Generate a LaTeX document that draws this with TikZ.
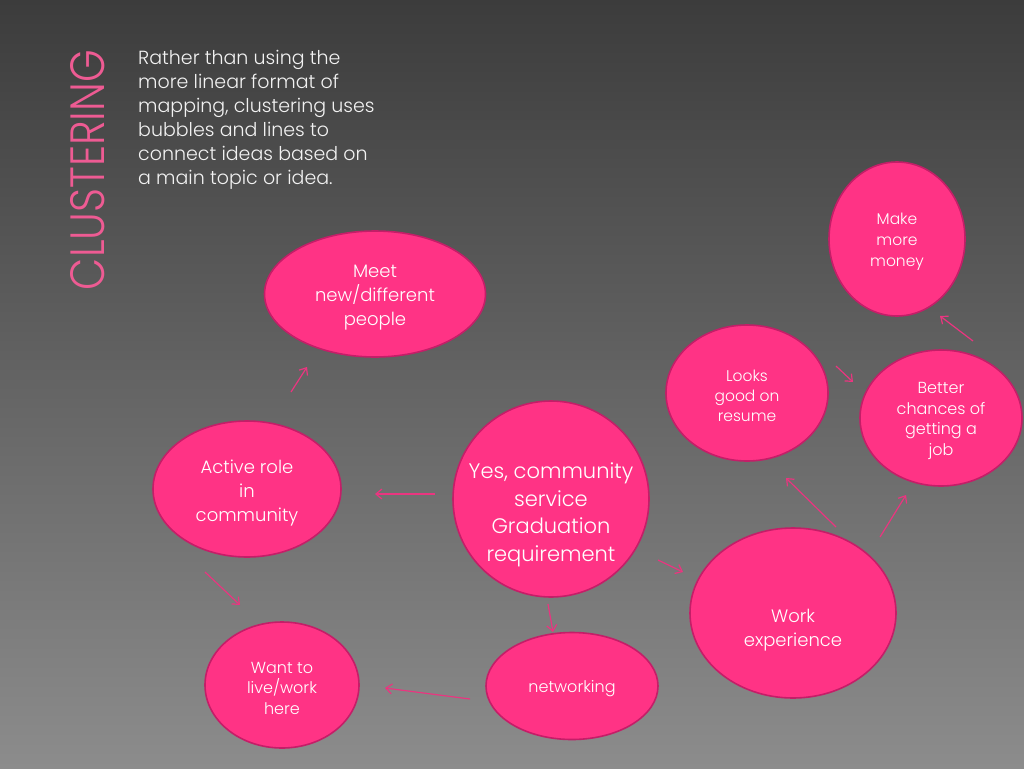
\documentclass[tikz,border=0pt]{standalone}
\usepackage{fontspec}
\setmainfont{Poppins}[UprightFont={* Light}]
\usetikzlibrary{arrows.meta,shapes.geometric}
\definecolor{bgtop}{HTML}{3C3C3C}
\definecolor{bgbot}{HTML}{8C8C8C}
\definecolor{bub}{HTML}{FF3385}
\definecolor{bubline}{HTML}{C41E68}
\definecolor{arr}{HTML}{EA3580}
\definecolor{ttl}{HTML}{EE5B93}
\definecolor{txt}{HTML}{F2F2F2}
\tikzset{
  bubble/.style={ellipse, fill=bub, draw=bubline, line width=1.6pt, inner sep=0pt},
  conn/.style={draw=arr, line width=1.2pt, -{Straight Barb[length=6pt,width=10pt]}},
  btext/.style={text=white, align=center, inner sep=0pt},
}
\begin{document}
\begin{tikzpicture}[x=1pt,y=-1pt]
\shade[top color=bgtop, bottom color=bgbot] (0,0) rectangle (1024,768);
\useasboundingbox (0,0) rectangle (1024,768);

\node[text=ttl, rotate=90, inner sep=0pt] (title) at (88,170) {\resizebox{240pt}{34pt}{CLUSTERING}};
\node[text=txt, anchor=north west, align=left, inner sep=0pt, font=\fontsize{19}{24}\selectfont] (intro) at (138,50)
 {Rather than using the\\more linear format of\\mapping, clustering uses\\bubbles and lines to\\connect ideas based on\\a main topic or idea.};

\node[bubble, minimum width=221pt, minimum height=126pt] (meet) at (375,294) {};
\node[btext, font=\fontsize{18}{24}\selectfont] (meettext) at (375,298) {Meet\\new/different\\people};
\node[bubble, minimum width=188pt, minimum height=136pt] (active) at (247,489) {};
\node[btext, font=\fontsize{18}{24}\selectfont] (activetext) at (247,493) {Active role\\in\\community};
\node[bubble, minimum width=196pt, minimum height=196pt] (yes) at (551,499) {};
\node[btext, font=\fontsize{21}{27.5}\selectfont] (yestext) at (551,515) {Yes, community\\service\\Graduation\\requirement};
\node[bubble, minimum width=154pt, minimum height=126pt] (want) at (282,685) {};
\node[btext, font=\fontsize{16}{20.5}\selectfont] (wanttext) at (282,688) {Want to\\live/work\\here};
\node[bubble, minimum width=172pt, minimum height=107pt] (net) at (572,686) {};
\node[btext, font=\fontsize{16}{20}\selectfont] (nettext) at (572,689) {networking};
\node[bubble, minimum width=206pt, minimum height=170pt] (work) at (793,613) {};
\node[btext, font=\fontsize{18}{24}\selectfont] (worktext) at (793,630) {Work\\experience};
\node[bubble, minimum width=162pt, minimum height=136pt] (looks) at (747,393) {};
\node[btext, font=\fontsize{15.5}{20}\selectfont] (lookstext) at (747,396) {Looks\\good on\\resume};
\node[bubble, minimum width=162pt, minimum height=136pt] (better) at (941,418) {};
\node[btext, font=\fontsize{16}{20.7}\selectfont] (bettertext) at (941,421) {Better\\chances of\\getting a\\job};
\node[bubble, minimum width=136pt, minimum height=154pt] (money) at (897,239) {};
\node[btext, font=\fontsize{15.5}{21}\selectfont] (moneytext) at (897,242) {Make\\more\\money};

\coordinate (a1s) at (435,494); \coordinate (a1e) at (375,494);
\coordinate (a2s) at (291,392); \coordinate (a2e) at (307,367);
\coordinate (a3s) at (205,572); \coordinate (a3e) at (240,605);
\coordinate (a4s) at (548,604); \coordinate (a4e) at (553,632);
\coordinate (a5s) at (470,699); \coordinate (a5e) at (385,688);
\coordinate (a6s) at (658,560); \coordinate (a6e) at (683,572);
\coordinate (a7s) at (836,527); \coordinate (a7e) at (786,478);
\coordinate (a8s) at (880,537); \coordinate (a8e) at (906,495);
\coordinate (a9s) at (836,366); \coordinate (a9e) at (853,382);
\coordinate (a10s) at (973,341); \coordinate (a10e) at (940,316);

\draw[conn] (a1s) -- (a1e);
\draw[conn] (a2s) -- (a2e);
\draw[conn] (a3s) -- (a3e);
\draw[conn] (a4s) -- (a4e);
\draw[conn] (a5s) -- (a5e);
\draw[conn] (a6s) -- (a6e);
\draw[conn] (a7s) -- (a7e);
\draw[conn] (a8s) -- (a8e);
\draw[conn] (a9s) -- (a9e);
\draw[conn] (a10s) -- (a10e);
\end{tikzpicture}
\end{document}
